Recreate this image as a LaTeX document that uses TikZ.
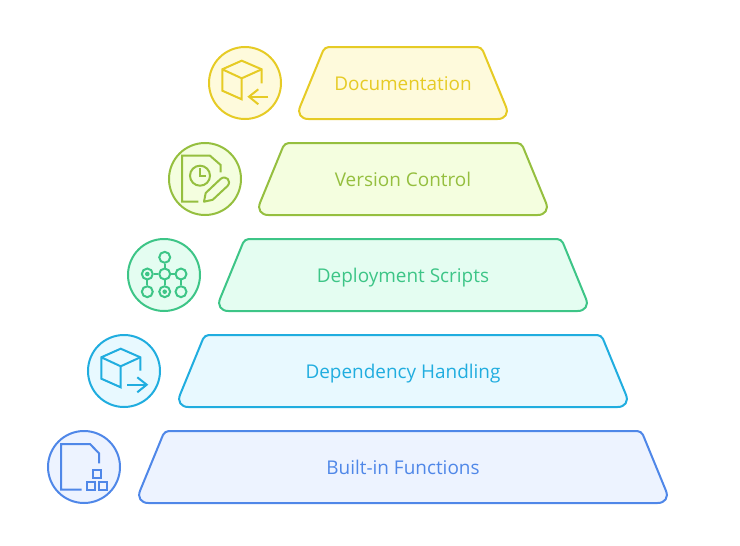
\documentclass[tikz,border=0pt]{standalone}
\usepackage{fontspec}
\setmainfont{Open Sans}
\definecolor{docline}{HTML}{E6CB25}
\definecolor{docfill}{HTML}{FEFADC}
\definecolor{verline}{HTML}{95BF3F}
\definecolor{verfill}{HTML}{F4FEDF}
\definecolor{depline}{HTML}{3DC587}
\definecolor{depfill}{HTML}{E4FDF1}
\definecolor{hanline}{HTML}{20ADDF}
\definecolor{hanfill}{HTML}{E8F9FF}
\definecolor{funline}{HTML}{4F87E8}
\definecolor{funfill}{HTML}{EDF3FF}
\tikzset{
	tier/.style = {line width = 1.5pt, line join = round},
	ring/.style = {circle, line width = 1.5pt, minimum size = 54pt, inner sep = 0pt},
	glyph/.style = {line width = 1.5pt},
	tiertext/.style = {font = \fontsize{14.2}{17}\selectfont, inner sep = 0pt, anchor = base},
	hub/.style = {circle, draw = depline, line width = 1.5pt, minimum size = 8.2pt, inner sep = 0pt},
	dothub/.style = {hub, path picture = {\fill[depline] (path picture bounding box.center) circle (1.7pt);}}
}
\begin{document}
\begin{tikzpicture}[x = 0.75pt, y = -0.75pt]
	\useasboundingbox (0, 0) rectangle (740, 546);
	% tiers with their labels and rings
	\foreach \nm/\ttl/\ytop/\hb/\cx/\txt in {
		doc/docname/47/108/245/Documentation,
		ver/vername/143/148/205/Version Control,
		dep/depname/239/188/164/Deployment Scripts,
		han/hanname/335/228/124/Dependency Handling,
		fun/funname/431/268/84/Built-in Functions}
	{
		\draw[tier, draw = \nm line, fill = \nm fill] (403, \ytop + 72) [rounded corners = 10pt] -- (403 - \hb, \ytop + 72) [rounded corners = 3.2pt] -- (403 - \hb + 29.6, \ytop) -- (403 + \hb - 29.6, \ytop) [rounded corners = 10pt] -- (403 + \hb, \ytop + 72) -- cycle;
		\node[tiertext, text = \nm line] (\ttl) at (403, \ytop + 43) {\txt};
		\node[ring, draw = \nm line, fill = \nm fill] (\nm ring) at (\cx, \ytop + 36) {};
	}
	% box with arrow coming in
	\draw[glyph, docline] (261.7, 83.3) -- (261.7, 69.3) -- (241.7, 60.7) -- (222.3, 69.3) -- (222.3, 90.7) -- (241.7, 99.3) -- (241.7, 78.3) -- (222.3, 69.3);
	\draw[glyph, docline] (241.7, 78.3) -- (261.7, 69.3);
	\draw[glyph, docline] (268.3, 96.7) -- (249, 96.7);
	\draw[glyph, docline] (258.3, 89.3) -- (249, 96.7) -- (258.3, 104.3);
	% page, clock and pencil
	\draw[glyph, verline] (198.3, 201.7) -- (182, 201.7) -- (182, 155.7) -- (210, 155.7) -- (220.7, 165) -- (220.7, 172.3);
	\draw[glyph, verline] (200, 175.7) circle (7.5pt);
	\draw[glyph, verline] (200, 168) -- (200, 175.7) -- (205.5, 175.7);
	\draw[glyph, verline, line join = round] (204, 201.7) -- (205.7, 193) -- (220.5, 179) .. controls (226, 174.5) and (232, 181) .. (227.5, 186) -- (212.7, 199.8) -- cycle;
	% small network
	\node[hub] (top) at (164.7, 257.3) {};
	\node[hub] (mid) at (164.7, 274) {};
	\node[dothub] (lft) at (147.3, 274) {};
	\node[hub] (rgt) at (181, 274) {};
	\node[hub] (botl) at (147.3, 291.7) {};
	\node[dothub] (botm) at (164.7, 291.7) {};
	\node[hub] (botr) at (181, 291.7) {};
	\foreach \a/\b in {top/mid, mid/lft, mid/rgt, mid/botm, lft/botl, rgt/botr}
		\draw[glyph, depline] (\a) -- (\b);
	% box with arrow going out
	\draw[glyph, hanline] (140.3, 370.7) -- (140.3, 357.3) -- (120.7, 348.7) -- (101.3, 357.3) -- (101.3, 378.7) -- (120.7, 387.3) -- (120.7, 366.3) -- (101.3, 357.3);
	\draw[glyph, hanline] (120.7, 366.3) -- (140.3, 357.3);
	\draw[glyph, hanline] (127.3, 384.7) -- (146.7, 384.7);
	\draw[glyph, hanline] (137.3, 377.3) -- (146.7, 384.7) -- (137.3, 392.3);
	% page and three squares
	\draw[glyph, funline] (81.7, 489.7) -- (61, 489.7) -- (61, 444) -- (90, 444) -- (99, 453.3) -- (99, 463.3);
	\draw[glyph, funline] (92.7, 470) rectangle (101, 478);
	\draw[glyph, funline] (86.7, 482) rectangle (95, 490);
	\draw[glyph, funline] (99, 482) rectangle (107.3, 490);
\end{tikzpicture}
\end{document}
